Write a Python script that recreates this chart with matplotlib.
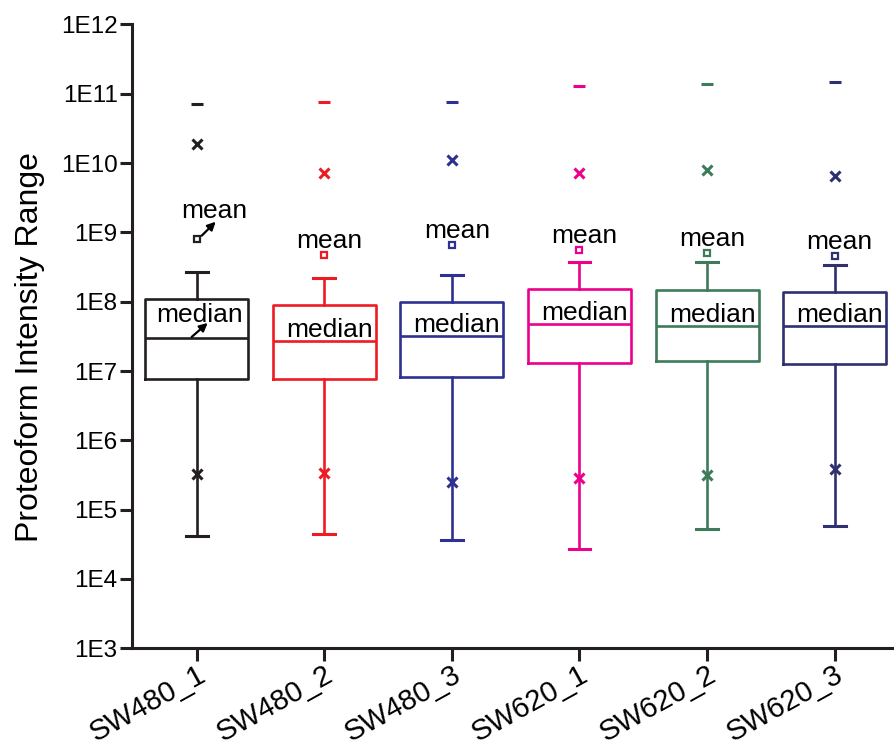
#!/usr/bin/env python3

import numpy as np
import matplotlib
matplotlib.use('Agg')
import matplotlib.pyplot as plt
from matplotlib.transforms import offset_copy, ScaledTranslation

plt.rcParams['font.family'] = ['Liberation Sans', 'DejaVu Sans']

samples = ['SW480_1', 'SW480_2', 'SW480_3', 'SW620_1', 'SW620_2', 'SW620_3']
colours = ['#231F20', '#ED1C24', '#2E3192', '#EC008C', '#3E7B5A', '#2E3070']

q1 = [7.7e6, 7.6e6, 8.3e6, 1.3e7, 1.4e7, 1.28e7]
median = [3.0e7, 2.7e7, 3.2e7, 4.7e7, 4.5e7, 4.4e7]
q3 = [1.1e8, 9.0e7, 9.9e7, 1.5e8, 1.48e8, 1.38e8]
whisker_low = [4.1e4, 4.5e4, 3.7e4, 2.75e4, 5.2e4, 5.8e4]
whisker_high = [2.7e8, 2.2e8, 2.4e8, 3.7e8, 3.7e8, 3.4e8]
mean = [8.1e8, 4.7e8, 6.6e8, 5.6e8, 5.0e8, 4.6e8]
p1 = [3.3e5, 3.4e5, 2.5e5, 2.9e5, 3.2e5, 3.8e5]
p99 = [1.9e10, 7.3e9, 1.1e10, 7.3e9, 8.0e9, 6.4e9]
maximum = [7.1e10, 7.5e10, 7.6e10, 1.3e11, 1.38e11, 1.5e11]

ytick_exp = list(range(3, 13))
ytick_labels = ['1E%d' % e for e in ytick_exp]

fig = plt.figure(figsize=(8.94, 7.5), dpi=100)
ax = fig.add_axes([131.5 / 894, 1 - 648.3 / 750, 1 - 131.5 / 894, (648.3 - 24.4) / 750])

positions = np.arange(1, len(samples) + 1)

for i, pos in enumerate(positions):
	c = colours[i]
	stats = [dict(med=median[i], q1=q1[i], q3=q3[i], whislo=whisker_low[i],
				  whishi=whisker_high[i], fliers=[], label=samples[i])]
	ax.bxp(stats, positions=[pos], widths=0.807, showfliers=False,
		   boxprops=dict(color=c, linewidth=1.9),
		   medianprops=dict(color=c, linewidth=1.9),
		   whiskerprops=dict(color=c, linewidth=1.9),
		   capprops=dict(color=c, linewidth=2.2), capwidths=0.17)
	ax.plot([pos, pos], [p1[i], p99[i]], linestyle='none', marker='x', color=c,
			markersize=7, markeredgewidth=2.2)
	ax.plot(pos, maximum[i], linestyle='none', marker='_', color=c,
			markersize=8, markeredgewidth=2.2)
	ax.plot(pos, mean[i], linestyle='none', marker='s', color=c,
			markerfacecolor='white', markersize=5, markeredgewidth=1.6)

	if i == 0:
		ax.text(pos, mean[i], 'mean', fontsize=19, ha='center', va='baseline',
				transform=offset_copy(ax.transData, x=18, y=21, units='dots'))
		ax.annotate('', xy=(pos, mean[i]), xytext=(pos, mean[i]),
					xycoords=offset_copy(ax.transData, x=19, y=17, units='dots'),
					textcoords=offset_copy(ax.transData, x=5, y=3, units='dots'),
					arrowprops=dict(arrowstyle='-|>', color='black', lw=1.6,
									shrinkA=0, shrinkB=0, mutation_scale=12))
		ax.text(pos, median[i], 'median', fontsize=19, ha='center', va='baseline',
				transform=offset_copy(ax.transData, x=3, y=16, units='dots'))
		ax.annotate('', xy=(pos, median[i]), xytext=(pos, median[i]),
					xycoords=offset_copy(ax.transData, x=11, y=15, units='dots'),
					textcoords=offset_copy(ax.transData, x=-5, y=1, units='dots'),
					arrowprops=dict(arrowstyle='-|>', color='black', lw=1.6,
									shrinkA=0, shrinkB=0, mutation_scale=12))
	else:
		ax.text(pos, mean[i], 'mean', fontsize=19, ha='center', va='baseline',
				transform=offset_copy(ax.transData, x=5, y=7, units='dots'))
		ax.text(pos, median[i], 'median', fontsize=19, ha='center', va='baseline',
				transform=offset_copy(ax.transData, x=5, y=4, units='dots'))

ax.set_yscale('log')
ax.set_ylim(1e3, 1e12)
ax.set_yticks([10.0 ** e for e in ytick_exp])
ax.set_yticklabels(ytick_labels)
ax.yaxis.set_minor_locator(matplotlib.ticker.NullLocator())

ax.set_xlim(0.489, 6.465)
ax.set_xticks(positions)
ax.set_xticklabels(samples, rotation=29, ha='right', rotation_mode='anchor')
# nudge the slanted labels so their ends sit just right of the ticks
shift = ScaledTranslation(9 / 100, -4 / 100, fig.dpi_scale_trans)
for lab in ax.get_xticklabels():
	lab.set_transform(lab.get_transform() + shift)

ax.spines['top'].set_visible(False)
ax.spines['right'].set_visible(False)
for s in ['left', 'bottom']:
	ax.spines[s].set_linewidth(2.2)
	ax.spines[s].set_color('#231F20')
ax.tick_params(axis='both', direction='out', length=9, width=2.2, color='#231F20')
ax.tick_params(axis='y', labelsize=17.5, pad=1)
ax.tick_params(axis='x', labelsize=21, pad=0)

ax.set_ylabel('Proteoform Intensity Range', fontsize=23)
ax.yaxis.set_label_coords(-0.113, 0.483)

fig.savefig('out.png', dpi=100)
